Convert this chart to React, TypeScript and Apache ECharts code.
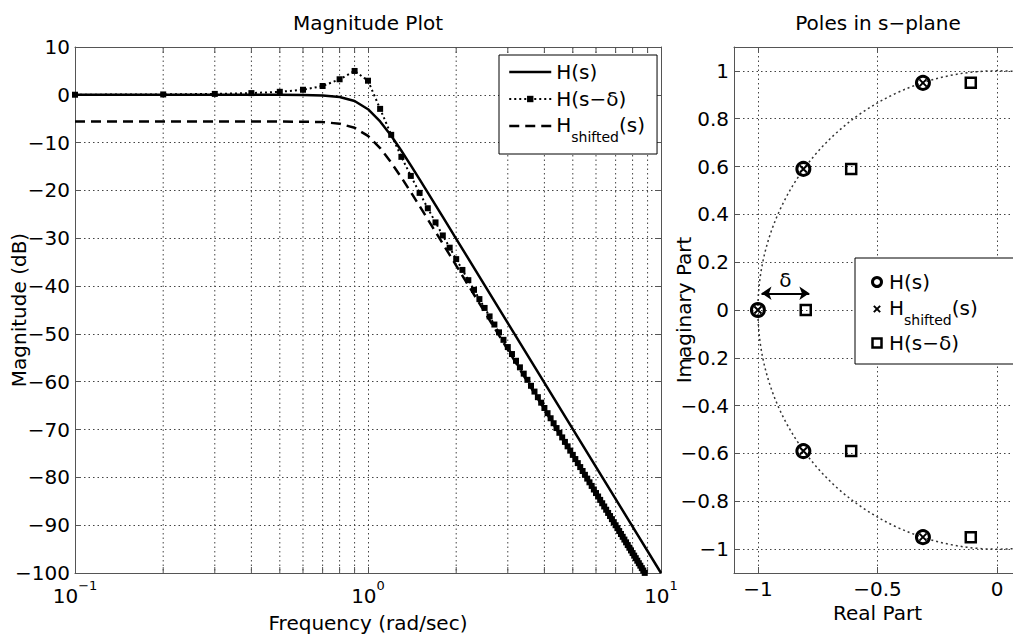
import React, { useEffect, useRef } from 'react';
import * as echarts from 'echarts';

// ---------------- data ----------------
// H(s - delta): sampled every 0.1 rad/s (markers), until it leaves the axis at -100 dB
const freqDelta = [
  0.1, 0.2, 0.3, 0.4, 0.5, 0.6, 0.7, 0.8, 0.9, 1.0,
  1.1, 1.2, 1.3, 1.4, 1.5, 1.6, 1.7, 1.8, 1.9, 2.0,
  2.1, 2.2, 2.3, 2.4, 2.5, 2.6, 2.7, 2.8, 2.9, 3.0,
  3.1, 3.2, 3.3, 3.4, 3.5, 3.6, 3.7, 3.8, 3.9, 4.0,
  4.1, 4.2, 4.3, 4.4, 4.5, 4.6, 4.7, 4.8, 4.9, 5.0,
  5.1, 5.2, 5.3, 5.4, 5.5, 5.6, 5.7, 5.8, 5.9, 6.0,
  6.1, 6.2, 6.3, 6.4, 6.5, 6.6, 6.7, 6.8, 6.9, 7.0,
  7.1, 7.2, 7.3, 7.4, 7.5, 7.6, 7.7, 7.8, 7.9, 8.0,
  8.1, 8.2, 8.3, 8.4, 8.5, 8.6, 8.7, 8.8,
];
const magDelta = [
  0.02, 0.08, 0.19, 0.36, 0.63, 1.06, 1.84, 3.25, 4.99, 2.95,
  -2.94, -8.37, -12.97, -16.96, -20.51, -23.72, -26.68, -29.41, -31.97, -34.36,
  -36.62, -38.76, -40.79, -42.72, -44.57, -46.34, -48.04, -49.67, -51.24, -52.75,
  -54.21, -55.62, -56.99, -58.31, -59.6, -60.85, -62.06, -63.23, -64.38, -65.49,
  -66.58, -67.64, -68.68, -69.69, -70.68, -71.64, -72.58, -73.51, -74.41, -75.3,
  -76.17, -77.02, -77.85, -78.67, -79.47, -80.26, -81.03, -81.79, -82.54, -83.28,
  -84.0, -84.71, -85.41, -86.09, -86.77, -87.44, -88.09, -88.74, -89.38, -90.01,
  -90.62, -91.23, -91.84, -92.43, -93.01, -93.59, -94.16, -94.72, -95.28, -95.83,
  -96.37, -96.9, -97.43, -97.95, -98.47, -98.98, -99.48, -99.98,
];
// H(s)
const freqH = [0.1, 0.2, 0.3, 0.4, 0.5, 0.6, 0.7, 0.8, 0.9, 1.0, 1.1, 1.2, 1.3, 1.4, 1.5, 1.6, 1.7, 1.8, 1.9, 2.0, 10];
const magH = [0, 0, 0, 0, 0, -0.03, -0.12, -0.44, -1.3, -3.01, -5.56, -8.57, -11.7, -14.76, -17.68, -20.45, -23.07, -25.54, -27.88, -30.11, -100];
// H_shifted(s)
const freqShifted = [0.1, 0.2, 0.3, 0.4, 0.5, 0.6, 0.7, 0.8, 0.9, 1.0, 1.1, 1.2, 1.3, 1.4, 1.5, 1.6, 1.7, 1.8, 1.9, 2.0, 8.79];
const magShifted = [-5.59, -5.59, -5.59, -5.59, -5.59, -5.62, -5.71, -6.03, -6.89, -8.6, -11.15, -14.16, -17.29, -20.35, -23.27, -26.04, -28.66, -31.13, -33.47, -35.7, -99.99];

// log-axis minor grid positions
const minorFreqs = [0.2, 0.3, 0.4, 0.5, 0.6, 0.7, 0.8, 0.9, 2, 3, 4, 5, 6, 7, 8, 9];

// poles
const polesHRe = [-1, -0.81, -0.81, -0.31, -0.31];
const polesHIm = [0, 0.59, -0.59, 0.95, -0.95];
const polesShiftedRe = [-1, -0.81, -0.81, -0.31, -0.31];
const polesShiftedIm = [0, 0.59, -0.59, 0.95, -0.95];
const polesDeltaRe = [-0.8, -0.61, -0.61, -0.11, -0.11];
const polesDeltaIm = [0, 0.59, -0.59, 0.95, -0.95];

// unit circle (center x, center y, radius) and the delta arrow
const unitCircle = [[0, 0, 1]];
const deltaArrowStart = [-0.985, 0.07];
const deltaArrowEnd = [-0.785, 0.07];

// axis ranges
const MAG_MIN = -100;
const MAG_MAX = 10;
const FREQ_MIN = 0.1;
const FREQ_MAX = 10;
const RE_MIN = -1.1;
const RE_MAX = 0.1;
const IM_MIN = -1.1;
const IM_MAX = 1.1;

// ---------------- styles ----------------
const FONT = '"DejaVu Sans", "Liberation Sans", Arial, sans-serif';
const AXIS_COLOR = '#555';
const GRID_COLOR = '#444';
const GRID_DASH = [1.5, 3];
const TICK_LEN = 6;
const FS = 20;

const minusSign = (v: number | string) => String(v).replace('-', '\u2212');

const axisLine = { show: true, onZero: false, lineStyle: { color: AXIS_COLOR, width: 1 } };
const axisTick = { show: true, inside: true, length: TICK_LEN, lineStyle: { color: AXIS_COLOR, width: 1 } };
const gridLine = { show: true, lineStyle: { color: GRID_COLOR, width: 1, type: GRID_DASH } };
const labelText = { color: '#000', fontSize: FS, fontFamily: FONT };
const nameText = { color: '#000', fontSize: FS, fontFamily: FONT };

const legendNames: Record<string, string> = {
  magH: 'H(s)',
  magDelta: 'H(s\u2212\u03b4)',
  magShifted: '{a|H}{sub|shifted}{a|(s)}',
  poleH: 'H(s)',
  poleShifted: '{a|H}{sub|shifted}{a|(s)}',
  poleDelta: 'H(s\u2212\u03b4)',
};

const legendRich = {
  a: { fontSize: FS, lineHeight: 22, verticalAlign: 'top', fontFamily: FONT, color: '#000' },
  sub: { fontSize: 14, lineHeight: 14, padding: [15, 0, 0, 0], verticalAlign: 'top', fontFamily: FONT, color: '#000' },
};

const renderMinorGrid = (params: any, api: any) => {
  const f = api.value(0);
  const top = api.coord([f, MAG_MAX]);
  const bottom = api.coord([f, MAG_MIN]);
  return {
    type: 'group',
    children: [
      { type: 'line', shape: { x1: top[0], y1: top[1], x2: bottom[0], y2: bottom[1] }, style: { stroke: GRID_COLOR, lineWidth: 1, lineDash: GRID_DASH } },
      { type: 'line', shape: { x1: bottom[0], y1: bottom[1], x2: bottom[0], y2: bottom[1] - TICK_LEN }, style: { stroke: AXIS_COLOR, lineWidth: 1 } },
      { type: 'line', shape: { x1: top[0], y1: top[1], x2: top[0], y2: top[1] + TICK_LEN }, style: { stroke: AXIS_COLOR, lineWidth: 1 } },
    ],
  };
};

const renderCircle = (params: any, api: any) => {
  const c = api.coord([api.value(0), api.value(1)]);
  const r = api.size([api.value(2), api.value(2)])[0];
  return {
    type: 'circle',
    shape: { cx: c[0], cy: c[1], r },
    style: { fill: 'none', stroke: '#333', lineWidth: 1.5, lineDash: [2, 3] },
  };
};

const zip = (xs: number[], ys: number[]) => xs.map((x, i) => [x, ys[i]]);

const option: any = {
  animation: false,
  backgroundColor: '#fff',
  textStyle: { fontFamily: FONT },
  graphic: [
    { type: 'text', x: 368, y: 23, style: { text: 'Magnitude Plot', font: `${FS}px ${FONT}`, fill: '#000', textAlign: 'center', textVerticalAlign: 'middle', align: 'center', verticalAlign: 'middle' } },
    { type: 'text', x: 878, y: 23, style: { text: 'Poles in s\u2212plane', font: `${FS}px ${FONT}`, fill: '#000', textAlign: 'center', textVerticalAlign: 'middle', align: 'center', verticalAlign: 'middle' } },
  ],
  grid: [
    { left: 75, top: 47, width: 586, height: 526, outerBoundsMode: 'none', containLabel: false },
    { left: 734, top: 47, width: 287, height: 526, outerBoundsMode: 'none', containLabel: false },
  ],
  xAxis: [
    {
      gridIndex: 0, type: 'log', logBase: 10, min: FREQ_MIN, max: FREQ_MAX,
      axisLine, axisTick, splitLine: gridLine,
      axisLabel: {
        ...labelText, margin: 11,
        formatter: (v: number) => `{b|10}{s|${minusSign(Math.round(Math.log10(v)))}}`,
        rich: {
          b: { fontSize: FS, lineHeight: 22, verticalAlign: 'bottom', fontFamily: FONT, color: '#000' },
          s: { fontSize: 13, lineHeight: 13, padding: [0, 0, 14, 0], verticalAlign: 'bottom', fontFamily: FONT, color: '#000' },
        },
      },
      name: 'Frequency (rad/sec)', nameLocation: 'middle', nameGap: 40, nameMoveOverlap: false, nameTextStyle: nameText,
    },
    {
      gridIndex: 0, type: 'log', logBase: 10, min: FREQ_MIN, max: FREQ_MAX, position: 'top',
      axisLine, axisTick, axisLabel: { show: false }, splitLine: { show: false },
    },
    {
      gridIndex: 1, type: 'value', min: RE_MIN, max: RE_MAX, splitNumber: 2,
      axisLine, axisTick, splitLine: gridLine,
      axisLabel: { ...labelText, margin: 6, showMinLabel: false, showMaxLabel: false, formatter: (v: number) => minusSign(+v.toFixed(2)) },
      name: 'Real Part', nameLocation: 'middle', nameGap: 30, nameMoveOverlap: false, nameTextStyle: nameText,
    },
    {
      gridIndex: 1, type: 'value', min: RE_MIN, max: RE_MAX, splitNumber: 2, position: 'top',
      axisLine, axisTick, axisLabel: { show: false }, splitLine: { show: false },
    },
  ],
  yAxis: [
    {
      gridIndex: 0, type: 'value', min: MAG_MIN, max: MAG_MAX, interval: 10,
      axisLine, axisTick, splitLine: gridLine,
      axisLabel: { ...labelText, margin: 5, formatter: (v: number) => minusSign(v) },
      name: 'Magnitude (dB)', nameLocation: 'middle', nameGap: 46, nameMoveOverlap: false, nameTextStyle: nameText,
    },
    {
      gridIndex: 0, type: 'value', min: MAG_MIN, max: MAG_MAX, interval: 10, position: 'right',
      axisLine, axisTick, axisLabel: { show: false }, splitLine: { show: false },
    },
    {
      gridIndex: 1, type: 'value', min: IM_MIN, max: IM_MAX, splitNumber: 11,
      axisLine, axisTick, splitLine: gridLine,
      axisLabel: { ...labelText, margin: 5, showMinLabel: false, showMaxLabel: false, formatter: (v: number) => minusSign(+v.toFixed(2)) },
      name: 'Imaginary Part', nameLocation: 'middle', nameGap: 40, nameMoveOverlap: false, nameTextStyle: nameText,
    },
    {
      gridIndex: 1, type: 'value', min: IM_MIN, max: IM_MAX, splitNumber: 11, position: 'right',
      axisLine, axisTick, axisLabel: { show: false }, splitLine: { show: false },
    },
  ],
  legend: [
    {
      orient: 'vertical', left: 499, top: 55,
      itemWidth: 42, itemHeight: 8, itemGap: 5, itemTextGap: 3,
      padding: [6, 12, 10, 9],
      backgroundColor: '#fff', borderColor: '#000', borderWidth: 1, borderRadius: 0,
      selectedMode: false,
      formatter: (n: string) => legendNames[n],
      textStyle: { color: '#000', fontSize: FS, fontFamily: FONT, lineHeight: 22, rich: legendRich },
      lineStyle: { width: 2.5 },
      data: [
        { name: 'magH', itemStyle: { color: 'rgba(0,0,0,0)', borderWidth: 0 } },
        { name: 'magDelta', itemStyle: { color: '#000', borderWidth: 0 }, lineStyle: { width: 2 } },
        { name: 'magShifted', itemStyle: { color: 'rgba(0,0,0,0)', borderWidth: 0 } },
      ],
    },
    {
      orient: 'vertical', left: 855, top: 258,
      itemWidth: 14, itemHeight: 9, itemGap: 5, itemTextGap: 7,
      padding: [13, 60, 10, 16],
      backgroundColor: '#fff', borderColor: '#000', borderWidth: 1, borderRadius: 0,
      selectedMode: false,
      formatter: (n: string) => legendNames[n],
      textStyle: { color: '#000', fontSize: FS, fontFamily: FONT, lineHeight: 22, rich: legendRich },
      data: [
        { name: 'poleH', icon: 'circle', itemStyle: { color: 'rgba(0,0,0,0)', borderColor: '#000', borderWidth: 3 } },
        { name: 'poleShifted', icon: 'path://M0,0M10,10M1.5,1.5L8.5,8.5M8.5,1.5L1.5,8.5', itemStyle: { color: 'rgba(0,0,0,0)', borderColor: '#000', borderWidth: 2 } },
        { name: 'poleDelta', icon: 'path://M0,0L10,0L10,10L0,10Z', itemStyle: { color: 'rgba(0,0,0,0)', borderColor: '#000', borderWidth: 2.5 } },
      ],
    },
  ],
  series: [
    {
      type: 'custom', name: 'minorGrid', xAxisIndex: 0, yAxisIndex: 0, silent: true, z: 1,
      data: minorFreqs.map((f) => [f, MAG_MIN]), encode: { x: 0, y: 1 },
      renderItem: renderMinorGrid,
    },
    {
      name: 'magH', type: 'line', xAxisIndex: 0, yAxisIndex: 0,
      data: zip(freqH, magH), symbol: 'none', showSymbol: false,
      itemStyle: { color: 'rgba(0,0,0,0)' },
      lineStyle: { color: '#000', width: 2.5 }, z: 4,
    },
    {
      name: 'magDelta', type: 'line', xAxisIndex: 0, yAxisIndex: 0,
      data: zip(freqDelta, magDelta), symbol: 'rect', symbolSize: 6, showSymbol: true,
      itemStyle: { color: '#000' },
      lineStyle: { color: '#000', width: 2, type: [2, 3] }, z: 3,
    },
    {
      name: 'magShifted', type: 'line', xAxisIndex: 0, yAxisIndex: 0,
      data: zip(freqShifted, magShifted), symbol: 'none', showSymbol: false,
      itemStyle: { color: 'rgba(0,0,0,0)' },
      lineStyle: { color: '#000', width: 2.5, type: [10, 6] }, z: 3,
    },
    {
      type: 'custom', name: 'unitCircle', xAxisIndex: 2, yAxisIndex: 2, silent: true, clip: true, z: 2,
      data: unitCircle, encode: { x: 0, y: 1 },
      renderItem: renderCircle,
    },
    {
      name: 'poleH', type: 'scatter', xAxisIndex: 2, yAxisIndex: 2,
      data: zip(polesHRe, polesHIm), symbol: 'circle', symbolSize: 13,
      itemStyle: { color: 'rgba(0,0,0,0)', borderColor: '#000', borderWidth: 3, opacity: 1 }, z: 5,
    },
    {
      name: 'poleShifted', type: 'scatter', xAxisIndex: 2, yAxisIndex: 2,
      data: zip(polesShiftedRe, polesShiftedIm), symbol: 'path://M0,0L10,10M10,0L0,10', symbolSize: 7,
      itemStyle: { color: 'rgba(0,0,0,0)', borderColor: '#000', borderWidth: 2, opacity: 1 }, z: 5,
    },
    {
      name: 'poleDelta', type: 'scatter', xAxisIndex: 2, yAxisIndex: 2,
      data: zip(polesDeltaRe, polesDeltaIm), symbol: 'rect', symbolSize: 10,
      itemStyle: { color: 'rgba(0,0,0,0)', borderColor: '#000', borderWidth: 2.5, opacity: 1 }, z: 5,
      markLine: {
        silent: true, animation: false,
        symbol: ['arrow', 'arrow'], symbolSize: 10,
        lineStyle: { color: '#000', width: 2, type: 'solid' },
        label: { show: true, position: 'middle', formatter: '\u03b4', color: '#000', fontSize: FS, fontFamily: FONT, distance: 3 },
        data: [[{ coord: deltaArrowStart }, { coord: deltaArrowEnd }]],
      },
    },
  ],
};

export default function App() {
  const ref = useRef<HTMLDivElement>(null);
  useEffect(() => {
    const chart = echarts.init(ref.current!, null, { renderer: 'svg' });
    chart.setOption(option);
    return () => chart.dispose();
  }, []);
  return <div ref={ref} style={{ position: 'fixed', left: 0, top: 0, width: 1013, height: 637 }} />;
}
